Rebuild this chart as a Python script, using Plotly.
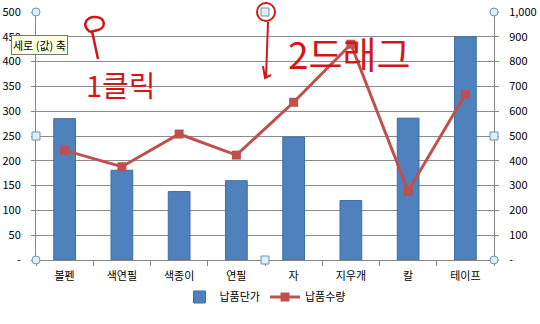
import plotly.graph_objects as go

categories = ["볼펜", "색연필", "색종이", "연필", "자", "지우개", "칼", "테이프"]
unit_price = [285, 181, 138, 160, 248, 120, 286, 450]
quantity = [442, 376, 508, 423, 636, 870, 278, 668]

left_ticks = list(range(0, 501, 50))
left_text = ["-"] + [str(v) for v in left_ticks[1:]]
right_ticks = list(range(0, 1001, 100))
right_text = ["-"] + [f"{v:,}" for v in right_ticks[1:]]

FONT = "Noto Sans CJK KR"
fig = go.Figure()
fig.add_trace(go.Bar(
    x=categories, y=unit_price, name="납품단가",
    marker=dict(color="#4F81BD", line=dict(color="#3E6FA8", width=1)),
    yaxis="y",
))
fig.add_trace(go.Scatter(
    x=categories, y=quantity, name="납품수량", mode="lines+markers",
    line=dict(color="#C0504D", width=3),
    marker=dict(symbol="square", size=9, color="#C0504D"),
    yaxis="y2",
))

W, H = 540, 324
L, R, T, B = 36, 46, 12, 64

def px(x):
    return (x - L) / (W - L - R)

def py(y):
    return (H - B - y) / (H - T - B)

shapes = []
# selection handles
for (x, y, kind) in [(36, 12, "c"), (494, 12, "c"), (36, 260, "c"), (494, 260, "c"),
                     (36, 136, "s"), (494, 136, "s"), (265, 260, "s"), (265, 12, "s")]:
    r = 4
    shapes.append(dict(type="circle" if kind == "c" else "rect", xref="paper", yref="paper",
                       x0=px(x - r), x1=px(x + r), y0=py(y + r), y1=py(y - r),
                       fillcolor="#DDEFF8", line=dict(color="#6E93B0", width=1), layer="above"))
red = "#D01818"
# pin shape for "1클릭"
shapes.append(dict(type="path", xref="paper", yref="paper",
                   path=f"M {px(90)},{py(32)} C {px(80)},{py(24)} {px(88)},{py(16)} {px(96)},{py(17)} "
                        f"C {px(106)},{py(18)} {px(106)},{py(28)} {px(98)},{py(30)} L {px(90)},{py(32)} "
                        f"M {px(92)},{py(31)} L {px(98)},{py(59)}",
                   line=dict(color=red, width=2.5), layer="above"))
# circle around top handle
shapes.append(dict(type="circle", xref="paper", yref="paper",
                   x0=px(257), x1=px(275), y0=py(21), y1=py(3),
                   line=dict(color=red, width=2), layer="above"))
# arrow down
shapes.append(dict(type="path", xref="paper", yref="paper",
                   path=f"M {px(268)},{py(22)} L {px(266)},{py(78)} M {px(263)},{py(66)} L {px(265)},{py(78)} L {px(271)},{py(75)}",
                   line=dict(color=red, width=2), layer="above"))

annotations = [
    dict(text="세로 (값) 축", xref="paper", yref="paper", x=px(11), y=py(45),
         xanchor="left", yanchor="middle", showarrow=False,
         font=dict(family=FONT, size=11, color="#000"),
         bgcolor="#FFFFE1", bordercolor="#767676", borderwidth=1, borderpad=1),
    dict(text="1클릭", xref="paper", yref="paper", x=px(84), y=py(84),
         xanchor="left", yanchor="middle", showarrow=False,
         font=dict(family=FONT, size=29, color=red)),
    dict(text="2드래그", xref="paper", yref="paper", x=px(286), y=py(53),
         xanchor="left", yanchor="middle", showarrow=False,
         font=dict(family=FONT, size=37, color=red)),
]

fig.update_layout(
    width=W, height=H,
    margin=dict(l=L, r=R, t=T, b=B),
    paper_bgcolor="white", plot_bgcolor="white",
    font=dict(family=FONT, size=11, color="#000"),
    bargap=0.62,
    showlegend=True,
    legend=dict(orientation="h", x=0.5, xanchor="center", y=py(297), yanchor="middle",
                font=dict(family=FONT, size=11, color="#000"), traceorder="normal",
                itemwidth=30),
    xaxis=dict(showline=True, linecolor="#868686", linewidth=1, ticks="outside",
               tickson="boundaries", ticklen=5, tickcolor="#868686", ticklabelstandoff=6,
               automargin=False,
               tickfont=dict(family=FONT, size=11, color="#000"), showgrid=False),
    yaxis=dict(range=[0, 500], tickvals=left_ticks, ticktext=left_text,
               showgrid=True, gridcolor="#8C8C8C", gridwidth=1,
               showline=True, linecolor="#868686", ticks="outside", ticklen=4,
               tickcolor="#868686", zeroline=False, ticklabelstandoff=8,
               automargin=False,
               tickfont=dict(family=FONT, size=11, color="#000")),
    yaxis2=dict(range=[0, 1000], tickvals=right_ticks, ticktext=right_text,
                overlaying="y", side="right", showgrid=False,
                showline=True, linecolor="#868686", ticks="outside", ticklen=4,
                tickcolor="#868686", zeroline=False, ticklabelstandoff=8,
                automargin=False,
                tickfont=dict(family=FONT, size=11, color="#000")),
    shapes=shapes,
    annotations=annotations,
)

fig.write_html("out.html")
